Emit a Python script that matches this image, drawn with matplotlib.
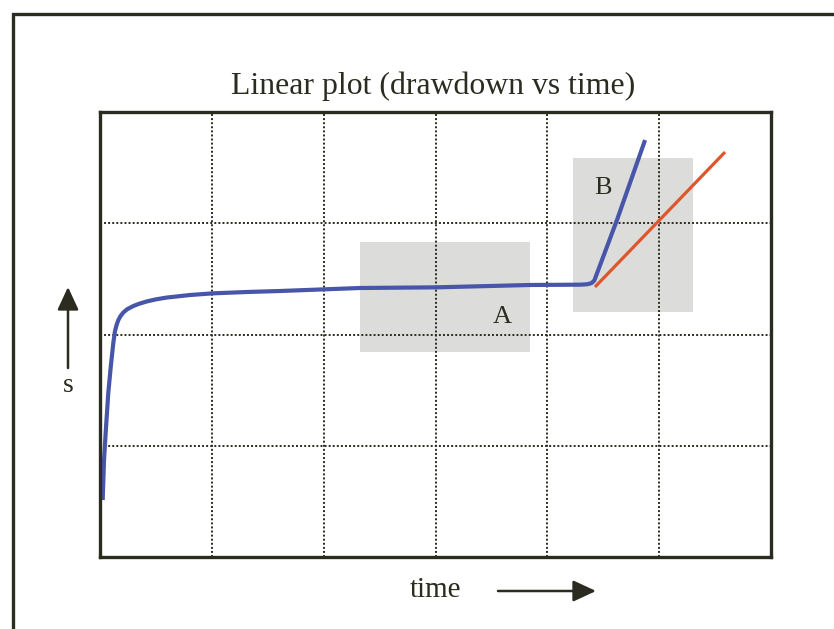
import matplotlib
matplotlib.use("Agg")
import matplotlib.pyplot as plt
from matplotlib.patches import Rectangle, FancyArrowPatch

# Observed drawdown curve (time, drawdown) in grid units
time_obs = [0.024, 0.036, 0.054, 0.074, 0.096, 0.119, 0.134, 0.148, 0.164,
            0.183, 0.208, 0.241, 0.298, 0.349, 0.418, 0.500, 0.596, 0.805,
            1.010, 1.312, 1.610, 2.325, 3.013, 3.845, 4.300, 4.360, 4.395,
            4.420, 4.623, 4.874]
drawdown_obs = [0.512, 0.872, 1.169, 1.474, 1.708, 1.924, 2.030, 2.085, 2.130,
                2.165, 2.197, 2.226, 2.256, 2.276, 2.297, 2.316, 2.332, 2.355,
                2.370, 2.382, 2.391, 2.418, 2.424, 2.445, 2.448, 2.452, 2.462,
                2.485, 3.030, 3.748]

# Reference straight line from the start of segment B
time_ref = [4.426, 5.589]
drawdown_ref = [2.427, 3.640]

# Grid positions
x_grid = [1, 2, 3, 4, 5]
y_grid = [1, 2, 3]

# Shaded regions and their labels
region_labels = ["A", "B"]
region_x = [(2.326, 3.846), (4.230, 5.303)]
region_y = [(1.843, 2.831), (2.202, 3.587)]
label_pos = [(3.595, 2.157), (4.498, 3.317)]

W, H = 834, 629
fig = plt.figure(figsize=(W / 100, H / 100), dpi=100)
fig.patch.set_facecolor("white")

ink = "#2b2b20"
serif = ["Liberation Serif", "DejaVu Serif"]

# Outer frame (open at the right and bottom edges)
fig.add_artist(Rectangle((13 / W, -0.05), 1.2, (1 - 14 / H) + 0.05,
                         transform=fig.transFigure, fill=False,
                         edgecolor=ink, linewidth=2.4))

ax = fig.add_axes([100 / W, 1 - 557 / H, 671 / W, 445 / H])
ax.set_xlim(0, 6)
ax.set_ylim(0, 4)
ax.set_xticks([])
ax.set_yticks([])
for sp in ax.spines.values():
    sp.set_linewidth(2.4)
    sp.set_color(ink)
    sp.set_zorder(5)

# Shaded boxes
for lab, (x0, x1), (y0, y1), (lx, ly) in zip(region_labels, region_x, region_y, label_pos):
    ax.add_patch(Rectangle((x0, y0), x1 - x0, y1 - y0, facecolor="#dcdcda",
                           edgecolor="none", zorder=1))
    ax.text(lx, ly, lab, fontsize=19, family=serif, color=ink,
            ha="center", va="center", zorder=4)

# Dotted grid drawn over the boxes
grid_kw = dict(color=ink, linestyle=(0, (1, 1.1)), linewidth=1.4, zorder=2)
for gx in x_grid:
    ax.axvline(gx, **grid_kw)
for gy in y_grid:
    ax.axhline(gy, **grid_kw)

ax.plot(time_obs, drawdown_obs, color="#4756a8", linewidth=3.0,
        solid_capstyle="butt", solid_joinstyle="round", zorder=3)
ax.plot(time_ref, drawdown_ref, color="#e0562c", linewidth=2.3,
        solid_capstyle="butt", zorder=3)

fig.text(433.5 / W, 1 - 94 / H, "Linear plot (drawdown vs time)",
         fontsize=22.9, family=serif, color=ink, ha="center", va="baseline")
fig.text(435.5 / W, 1 - 597 / H, "time", fontsize=21, family=serif,
         color=ink, ha="center", va="baseline")
fig.text(68 / W, 1 - 385 / H, "s", fontsize=20, family=serif,
         color=ink, ha="center", va="center")

# Direction arrows
arrow_style = "-|>,head_length=14,head_width=6.5"
fig.add_artist(FancyArrowPatch((498 / W, 1 - 591 / H), (596 / W, 1 - 591 / H),
                               transform=fig.transFigure, arrowstyle=arrow_style,
                               mutation_scale=1, color=ink, linewidth=1.8,
                               shrinkA=0, shrinkB=0))
fig.add_artist(FancyArrowPatch((68 / W, 1 - 368 / H), (68 / W, 1 - 287 / H),
                               transform=fig.transFigure, arrowstyle=arrow_style,
                               mutation_scale=1, color=ink, linewidth=1.8,
                               shrinkA=0, shrinkB=0))

fig.savefig("out.png", dpi=100)
